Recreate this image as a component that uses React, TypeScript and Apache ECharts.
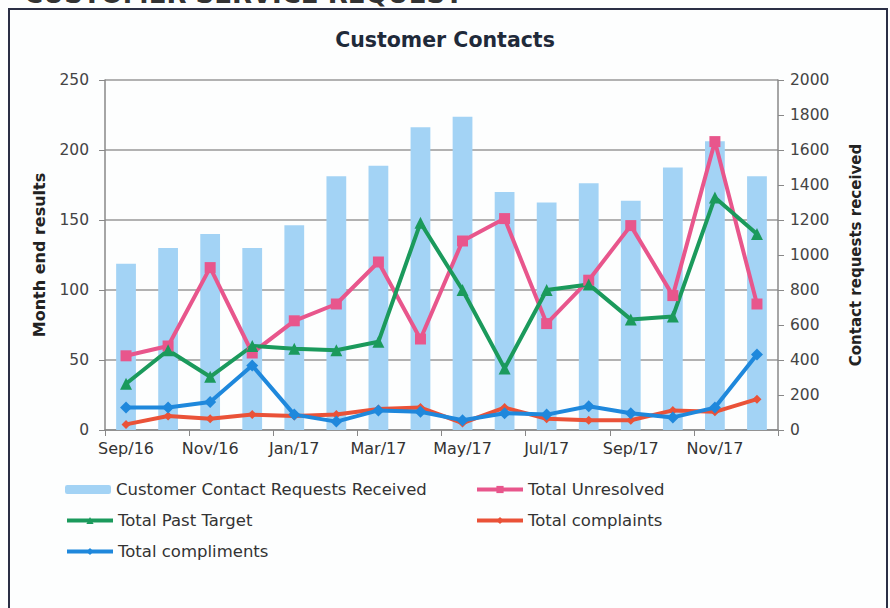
import React, { useEffect, useRef } from "react";
import * as echarts from "echarts";

const months = ["Sep/16","Oct/16","Nov/16","Dec/16","Jan/17","Feb/17","Mar/17","Apr/17","May/17","Jun/17","Jul/17","Aug/17","Sep/17","Oct/17","Nov/17","Dec/17"];
const contactRequests = [950,1040,1120,1040,1170,1450,1510,1730,1790,1360,1300,1410,1310,1500,1650,1450];
const totalUnresolved = [53,60,116,55,78,90,120,65,135,151,76,107,146,96,206,90];
const totalPastTarget = [33,57,38,60,58,57,63,148,100,44,100,104,79,81,166,140];
const totalComplaints = [4,10,8,11,10,11,15,16,5,16,8,7,7,14,13,22];
const totalCompliments = [16,16,20,46,11,6,14,13,7,12,11,17,12,9,16,54];

const FONT = "DejaVu Sans";

export default function App() {
  const ref = useRef<HTMLDivElement>(null);
  useEffect(() => {
    if (!ref.current) return;
    const chart = echarts.init(ref.current, null, { renderer: "svg" });
    const legendBase = {
      orient: "horizontal",
      itemWidth: 46,
      itemHeight: 9,
      itemGap: 5,
      lineStyle: { width: 4 },
      textStyle: { fontFamily: FONT, fontSize: 16.5, color: "#333" },
    };
    chart.setOption({
      animation: false,
      backgroundColor: "#fdfefe",
      title: {
        text: "Customer Contacts",
        left: "center",
        top: 24,
        textStyle: { fontFamily: FONT, fontWeight: "bold", fontSize: 20.5, color: "#1f2a3a" },
      },
      graphic: [
        {
          type: "rect",
          shape: { x: 9, y: 9, width: 878, height: 610 },
          style: { fill: "none", stroke: "#2b2f45", lineWidth: 2 },
        },
        {
          type: "text",
          x: 24,
          y: -19,
          style: { text: "CUSTOMER SERVICE REQUEST", fontFamily: FONT, fontWeight: "bold", fontSize: 26, fill: "#333" },
        },
      ],
      legend: [
        { ...legendBase, left: 60, top: 476, data: ["Customer Contact Requests Received"] },
        { ...legendBase, left: 470, top: 476, data: ["Total Unresolved"] },
        { ...legendBase, left: 60, top: 507, data: ["Total Past Target"] },
        { ...legendBase, left: 470, top: 507, data: ["Total complaints"] },
        { ...legendBase, left: 60, top: 538, data: ["Total compliments"] },
      ],
      grid: { left: 105, right: 112, top: 80, bottom: 178 },
      xAxis: {
        type: "category",
        data: months,
        boundaryGap: true,
        axisLine: { lineStyle: { color: "#888", width: 1.5 } },
        axisTick: { show: true, interval: 1, length: 6, lineStyle: { color: "#888" } },
        axisLabel: { interval: 1, fontFamily: FONT, fontSize: 16, color: "#333", margin: 10 },
      },
      yAxis: [
        {
          type: "value",
          min: 0,
          max: 250,
          interval: 50,
          name: "Month end results",
          nameLocation: "middle",
          nameGap: 58,
          nameTextStyle: { fontFamily: FONT, fontWeight: "bold", fontSize: 16, color: "#222" },
          axisLine: { show: true, lineStyle: { color: "#888", width: 1.5 } },
          axisTick: { show: true, length: 6, lineStyle: { color: "#888" } },
          axisLabel: { fontFamily: FONT, fontSize: 15.5, color: "#444", margin: 16 },
          splitLine: { lineStyle: { color: "#999", width: 1.5 } },
        },
        {
          type: "value",
          min: 0,
          max: 2000,
          interval: 200,
          name: "Contact requests received",
          nameLocation: "middle",
          nameGap: 70,
          nameRotate: 90,
          nameTextStyle: { fontFamily: FONT, fontWeight: "bold", fontSize: 15, color: "#222" },
          axisLine: { show: true, lineStyle: { color: "#888", width: 1.5 } },
          axisTick: { show: true, length: 6, lineStyle: { color: "#888" } },
          axisLabel: { fontFamily: FONT, fontSize: 15.5, color: "#444", margin: 12, formatter: (v: number) => String(v) },
          splitLine: { show: false },
        },
      ],
      series: [
        {
          name: "Customer Contact Requests Received",
          type: "bar",
          yAxisIndex: 1,
          data: contactRequests,
          barWidth: "47%",
          itemStyle: { color: "#a3d3f5" },
        },
        {
          name: "Total Unresolved",
          type: "line",
          data: totalUnresolved,
          symbol: "rect",
          symbolSize: 11,
          lineStyle: { width: 4, color: "#e8568c" },
          itemStyle: { color: "#e8568c" },
        },
        {
          name: "Total Past Target",
          type: "line",
          data: totalPastTarget,
          symbol: "triangle",
          symbolSize: 12,
          lineStyle: { width: 4, color: "#1b9a5c" },
          itemStyle: { color: "#1b9a5c" },
        },
        {
          name: "Total complaints",
          type: "line",
          data: totalComplaints,
          symbol: "diamond",
          symbolSize: 9,
          lineStyle: { width: 4, color: "#ea5238" },
          itemStyle: { color: "#ea5238" },
        },
        {
          name: "Total compliments",
          type: "line",
          data: totalCompliments,
          symbol: "diamond",
          symbolSize: 12,
          lineStyle: { width: 4, color: "#1f88dc" },
          itemStyle: { color: "#1f88dc" },
        },
      ],
    });
    return () => chart.dispose();
  }, []);
  return (
    <div
      ref={ref}
      style={{ position: "fixed", left: 0, top: 0, width: 890, height: 608 }}
    />
  );
}
